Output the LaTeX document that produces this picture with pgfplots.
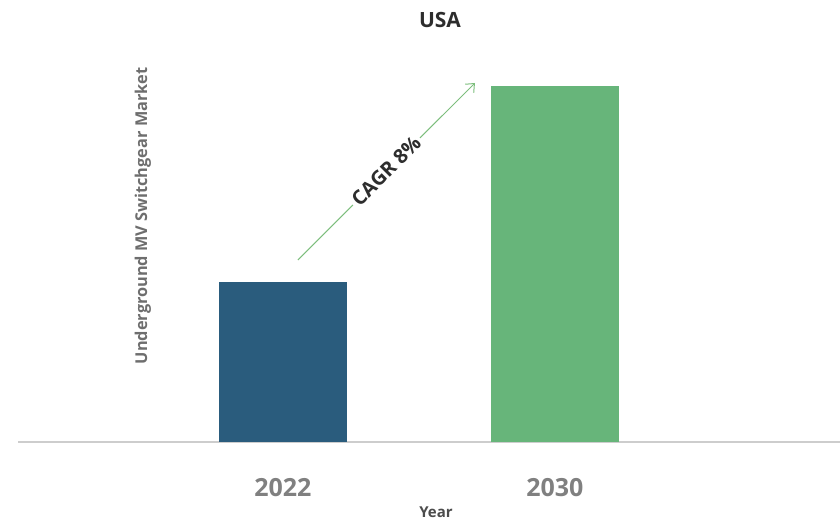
\documentclass[border=0pt]{standalone}
\usepackage{pgfplots}
\pgfplotsset{compat=1.18}
\usepackage{fontspec}
\setmainfont{Open Sans}
\usetikzlibrary{arrows.meta}
\definecolor{barblue}{RGB}{42,92,125}
\definecolor{bargreen}{RGB}{103,181,122}
\definecolor{arrowgreen}{RGB}{125,190,125}
\definecolor{basegray}{RGB}{205,205,205}
\definecolor{ticgray}{RGB}{128,128,128}
\definecolor{labgray}{RGB}{110,110,110}
\definecolor{titlegray}{RGB}{45,45,45}
\begin{document}
\begin{tikzpicture}[x=1pt,y=1pt]
\path[use as bounding box] (0,0) rectangle (840,522);
\begin{axis}[
  at={(18pt,80pt)}, anchor=south west,
  scale only axis, width=822pt, height=402pt,
  xmin=-0.974, xmax=2.048, ymin=0, ymax=402,
  axis y line=none, axis x line*=bottom,
  x axis line style={basegray, line width=1.5pt, -},
  xtick={0,1}, xticklabels={2022,2030},
  major tick length=0pt,
  xticklabel style={font=\fontsize{25}{30}\selectfont\bfseries, text=ticgray, yshift=-33pt},
  ybar, bar width=0.47, bar shift=0pt,
  clip=false,
]
\addplot[draw=none, fill=barblue] coordinates {(0,160)};
\addplot[draw=none, fill=bargreen] coordinates {(1,356)};
\draw[arrowgreen, line width=1pt, -{Straight Barb[length=7pt,width=12pt]}] (axis cs:0.055,182) -- (axis cs:0.706,359);
\node[rotate=45, fill=white, inner sep=3pt, text=titlegray, font=\fontsize{20}{24}\selectfont\bfseries] at (axis cs:0.379,271) {CAGR 8\%};
\end{axis}
\node[text=titlegray, font=\fontsize{21}{25}\selectfont\bfseries] at (440,502) {USA};
\node[text=titlegray!85, font=\fontsize{15}{18}\selectfont\bfseries] at (436,10) {Year};
\node[rotate=90, text=labgray, font=\fontsize{16.3}{19}\selectfont\bfseries] at (143,306) {Underground MV Switchgear Market};
\end{tikzpicture}
\end{document}
